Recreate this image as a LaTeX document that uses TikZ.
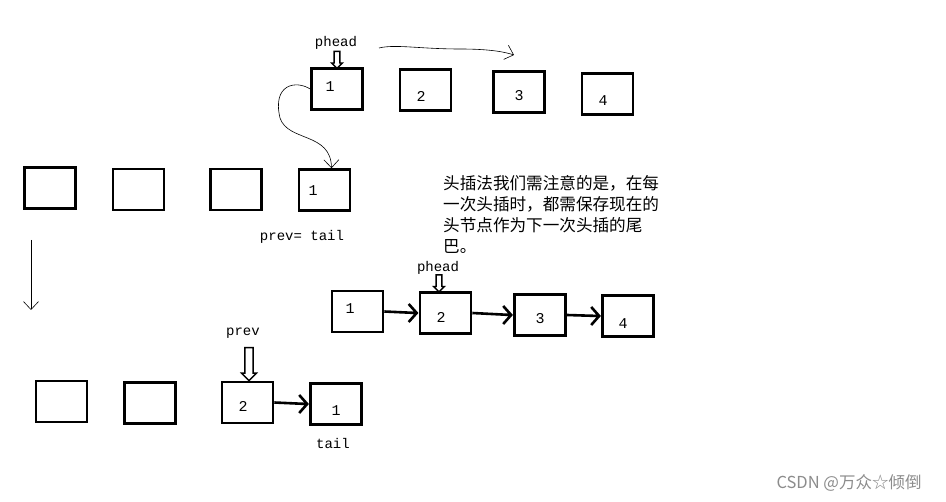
\documentclass[tikz,border=0pt]{standalone}
\usepackage{fontspec}
\setmainfont{Liberation Serif}
\newfontfamily\cjk{Noto Sans CJK SC}
\newfontfamily\monof{Liberation Mono}
\usetikzlibrary{arrows.meta,shapes.arrows}
\begin{document}
\begin{tikzpicture}[x=1pt,y=-1pt,
  box/.style={draw, line width=2.6pt, minimum width=51pt, minimum height=41pt, inner sep=0pt},
  num/.style={font=\fontsize{15}{15}\selectfont\monof, inner sep=0pt},
  lab/.style={font=\fontsize{14}{14}\selectfont\monof, inner sep=0pt},
  link/.style={line width=2.6pt, line join=miter},
  thinarrow/.style={line width=0.6pt, -{Straight Barb[length=8pt,width=15pt,line width=0.6pt]}},
  hollow/.style={draw, line width=1.4pt, shape=single arrow, rotate=-90,
    single arrow head extend=2.5pt, inner xsep=0pt, inner ysep=2.2pt, anchor=center}
]
\useasboundingbox[fill=white] (0,0) rectangle (946,502);

% row 1
\node[box] (a1) at (337,89) {};
\node[box] (a2) at (425.5,90) {};
\node[box] (a3) at (519,92) {};
\node[box] (a4) at (607.5,94) {};
\node[num] (n11) at (330,87) {1};
\node[num] (n12) at (421,96) {2};
\node[num] (n13) at (519,96) {3};
\node[num] (n14) at (603,101) {4};
\node[lab] (ph1) at (336,43) {phead};
\node[hollow, minimum height=17pt, minimum width=7pt] (ha1) at (337,58.5) {};
\coordinate (w1) at (379,48);
\coordinate (w2) at (514,55);
\draw[thinarrow] (w1) .. controls (395,44) and (420,49) .. (460,49) .. controls (490,49) and (505,52) .. (w2);

% row 2
\node[box] (b1) at (50,188) {};
\node[box] (b2) at (138.5,189.5) {};
\node[box] (b3) at (236,189.5) {};
\node[box] (b4) at (324.5,190) {};
\node[num] (n21) at (313,191) {1};
\node[lab] (pt) at (302,237) {prev= tail};
\draw[thinarrow] (a1.west) .. controls (296,80) and (272,84) .. (280,118)
  .. controls (288,142) and (331,132) .. ([xshift=7pt]b4.north);

\coordinate (v1) at (31,240);
\coordinate (v2) at (31,310);
\draw[thinarrow] (v1) -- (v2);

% text
\node[anchor=north west, align=left, inner sep=0pt,
  font=\fontsize{16.6}{21}\selectfont\cjk] (txt) at (443,175)
  {头插法我们需注意的是，在每\\一次头插时，都需保存现在的\\头节点作为下一次头插的尾\\巴。};

% row 3
\node[box] (c1) at (357.5,311.5) {};
\node[box] (c2) at (445.5,313) {};
\node[box] (c3) at (540,315) {};
\node[box] (c4) at (628,316) {};
\node[num] (n31) at (350,309) {1};
\node[num] (n32) at (441,317) {2};
\node[num] (n33) at (540,319) {3};
\node[num] (n34) at (623,324) {4};
\node[lab] (ph2) at (438,268) {phead};
\node[hollow, minimum height=17pt, minimum width=8pt] (ha2) at (439,282) {};
\draw[link] (c1.east) -- ([xshift=-2pt]c2.west) ++(-8,-9) -- ++(8,9) -- ++(-8,9);
\draw[link] (c2.east) -- ([xshift=-2pt]c3.west) ++(-8,-9) -- ++(8,9) -- ++(-8,9);
\draw[link] (c3.east) -- ([xshift=-2pt]c4.west) ++(-8,-9) -- ++(8,9) -- ++(-8,9);

% row 4
\node[box] (d1) at (61.5,401.5) {};
\node[box] (d2) at (150,403) {};
\node[box] (d3) at (247.5,402.5) {};
\node[box] (d4) at (336,404) {};
\node[num] (n43) at (243,406) {2};
\node[num] (n44) at (336,411) {1};
\node[lab] (pv) at (243,333) {prev};
\node[lab] (tl) at (333,443) {tail};
\node[hollow, minimum height=33pt, minimum width=15pt, inner ysep=3pt, single arrow head extend=3pt] (ha3) at (249,362) {};
\draw[link] (d3.east) -- ([xshift=-2pt]d4.west) ++(-8,-9) -- ++(8,9) -- ++(-8,9);

% watermark
\node[font=\fontsize{16.5}{16.5}\selectfont\cjk, text=black!45, inner sep=0pt] (wm) at (849,483) {CSDN @万众☆倾倒};
\end{tikzpicture}
\end{document}
